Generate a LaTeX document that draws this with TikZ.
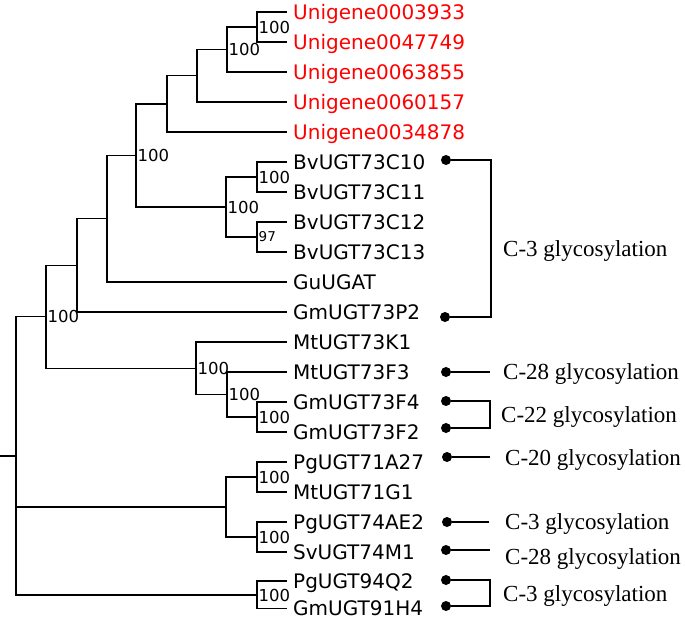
\documentclass[tikz,border=0pt]{standalone}
\usepackage{fontspec}
\setmainfont{Liberation Serif}
\newfontfamily\treefont{DejaVu Sans}
\usepackage{tikz}

\begin{document}
\begin{tikzpicture}[
  x=1pt, y=-1pt,
  branch/.style={draw, line width=1.2pt},
  leaf/.style={anchor=west, inner xsep=6pt, inner ysep=0pt, text height=14.4pt,
  text depth=0pt, font=\treefont\fontsize{20}{22}\selectfont},
  unigene/.style={leaf, text=red},
  boot/.style={anchor=west, inner sep=1.5pt, font=\treefont\fontsize{16.5}{18}\selectfont},
  smallboot/.style={boot, font=\treefont\fontsize{13.5}{15}\selectfont},
  dot/.style={circle, fill=black, inner sep=0pt, minimum size=10pt},
  link/.style={draw, line width=1.5pt},
  site/.style={anchor=west, inner sep=0pt, text height=15.2pt, text depth=0pt,
  font=\fontsize{23}{25}\selectfont}
]
\useasboundingbox (0,0) rectangle (685,618);

% leaves
\node[unigene] (u1) at (287,12) {Unigene0003933};
\node[unigene] (u2) at (287,42) {Unigene0047749};
\node[unigene] (u3) at (287,72) {Unigene0063855};
\node[unigene] (u4) at (287,102) {Unigene0060157};
\node[unigene] (u5) at (287,132) {Unigene0034878};
\node[leaf] (bv10) at (287,162) {BvUGT73C10};
\node[leaf] (bv11) at (287,192) {BvUGT73C11};
\node[leaf] (bv12) at (287,222) {BvUGT73C12};
\node[leaf] (bv13) at (287,252) {BvUGT73C13};
\node[leaf] (gu) at (287,282) {GuUGAT};
\node[leaf] (gm73p2) at (287,312) {GmUGT73P2};
\node[leaf] (mtk1) at (287,342) {MtUGT73K1};
\node[leaf] (mtf3) at (287,372) {MtUGT73F3};
\node[leaf] (gmf4) at (287,402) {GmUGT73F4};
\node[leaf] (gmf2) at (287,432) {GmUGT73F2};
\node[leaf] (pg71) at (287,462) {PgUGT71A27};
\node[leaf] (mt71) at (287,492) {MtUGT71G1};
\node[leaf] (pg74) at (287,522) {PgUGT74AE2};
\node[leaf] (sv74) at (287,552) {SvUGT74M1};
\node[leaf] (pg94) at (287,581) {PgUGT94Q2};
\node[leaf] (gm91) at (287,608.5) {GmUGT91H4};

% inner nodes
\coordinate (a1) at (257,27);
\coordinate (a2) at (227,49.5);
\coordinate (a3) at (197,75.75);
\coordinate (a4) at (167,103.9);
\coordinate (b1) at (257,177);
\coordinate (b2) at (257,237);
\coordinate (b3) at (226,207);
\coordinate (c1) at (136,155.4);
\coordinate (c2) at (107,218.7);
\coordinate (c3) at (77,265.4);
\coordinate (m1) at (257,417);
\coordinate (m2) at (227,394.5);
\coordinate (m3) at (196,368.25);
\coordinate (c4) at (46,316.8);
\coordinate (p1) at (257,477);
\coordinate (p2) at (257,537);
\coordinate (p3) at (226,507);
\coordinate (p4) at (257,595);
\coordinate (root) at (16,456);
\coordinate (stub) at (0,456);

\draw[branch] (a1) |- (u1) (a1) |- (u2);
\draw[branch] (a2) |- (a1) (a2) |- (u3);
\draw[branch] (a3) |- (a2) (a3) |- (u4);
\draw[branch] (a4) |- (a3) (a4) |- (u5);
\draw[branch] (b1) |- (bv10) (b1) |- (bv11);
\draw[branch] (b2) |- (bv12) (b2) |- (bv13);
\draw[branch] (b3) |- (b1) (b3) |- (b2);
\draw[branch] (c1) |- (a4) (c1) |- (b3);
\draw[branch] (c2) |- (c1) (c2) |- (gu);
\draw[branch] (c3) |- (c2) (c3) |- (gm73p2);
\draw[branch] (m1) |- (gmf4) (m1) |- (gmf2);
\draw[branch] (m2) |- (mtf3) (m2) |- (m1);
\draw[branch] (m3) |- (mtk1) (m3) |- (m2);
\draw[branch] (c4) |- (c3) (c4) |- (m3);
\draw[branch] (p1) |- (pg71) (p1) |- (mt71);
\draw[branch] (p2) |- (pg74) (p2) |- (sv74);
\draw[branch] (p3) |- (p1) (p3) |- (p2);
\draw[branch] (p4) |- (pg94) (p4) |- (gm91);
\draw[branch] (root) |- (c4) (root) |- (p3) (root) |- (p4);
\draw[branch] (stub) -- (root);

% bootstrap values
\node[boot] at (a1) {100};
\node[boot] at (a2) {100};
\node[boot] at (c1) {100};
\node[boot] at (b1) {100};
\node[boot] at (b3) {100};
\node[smallboot] at (b2) {97};
\node[boot] at (c4) {100};
\node[boot] at (m3) {100};
\node[boot] at (m2) {100};
\node[boot] at (m1) {100};
\node[boot] at (p1) {100};
\node[boot] at (p2) {100};
\node[boot] at (p4) {100};

% glycosylation sites
\node[dot] (e1) at (446,160) {};
\node[dot] (e2) at (445,317) {};
\node[dot] (e3) at (446,372) {};
\node[dot] (e4) at (446,401) {};
\node[dot] (e5) at (446,428) {};
\node[dot] (e6) at (447,457) {};
\node[dot] (e7) at (447,522) {};
\node[dot] (e8) at (446,550) {};
\node[dot] (e9) at (446,580) {};
\node[dot] (e10) at (446,606) {};

\coordinate (k1) at (491,238);
\coordinate (k2) at (490,372);
\coordinate (k3) at (490,415);
\coordinate (k4) at (490,457);
\coordinate (k5) at (489,522);
\coordinate (k6) at (490,550);
\coordinate (k7) at (490,593);

\draw[link] (e1) -| (k1) |- (e2);
\draw[link] (e3) -- (k2);
\draw[link] (e4) -| (k3) |- (e5);
\draw[link] (e6) -- (k4);
\draw[link] (e7) -- (k5);
\draw[link] (e8) -- (k6);
\draw[link] (e9) -| (k7) |- (e10);

\node[site] (s1) at (503,249) {C-3 glycosylation};
\node[site] (s2) at (503,372) {C-28 glycosylation};
\node[site] (s3) at (501,415) {C-22 glycosylation};
\node[site] (s4) at (505,458) {C-20 glycosylation};
\node[site] (s5) at (505,522) {C-3 glycosylation};
\node[site] (s6) at (505,557) {C-28 glycosylation};
\node[site] (s7) at (503,594) {C-3 glycosylation};
\end{tikzpicture}
\end{document}
